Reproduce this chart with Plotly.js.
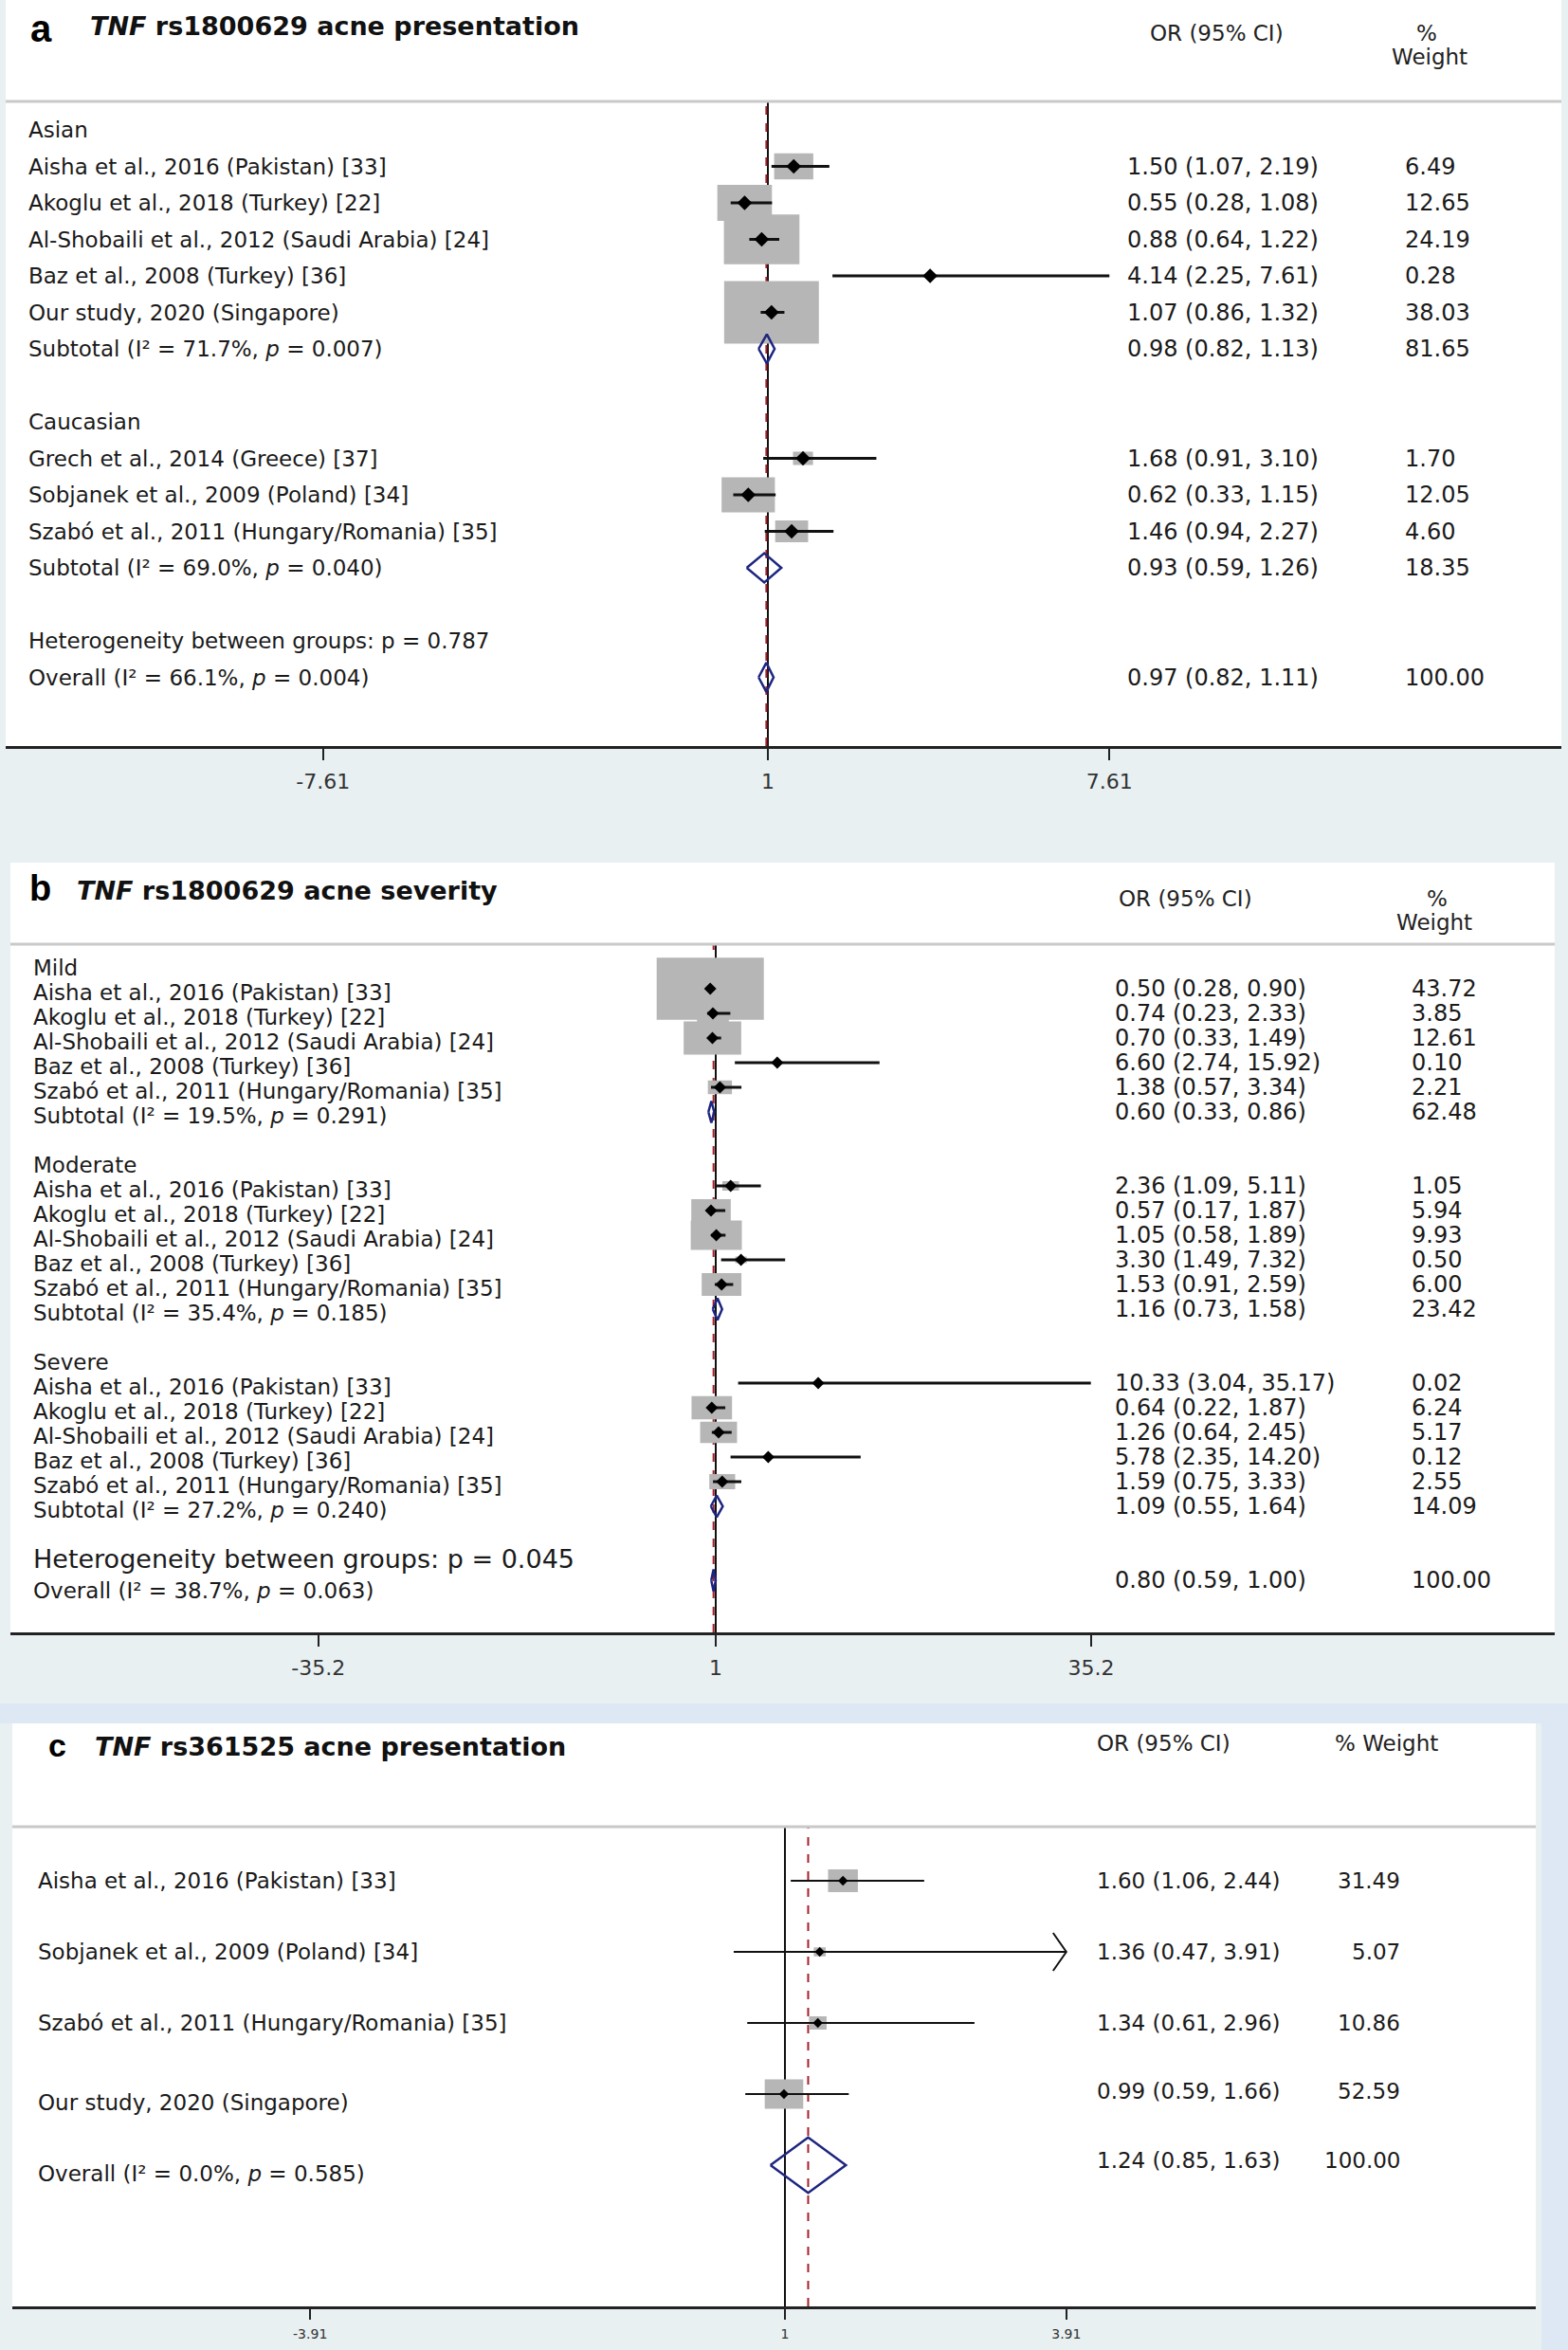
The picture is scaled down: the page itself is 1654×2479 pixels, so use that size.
<!DOCTYPE html>
<html><head><meta charset="utf-8">
<script src="https://cdn.plot.ly/plotly-3.0.1.min.js"></script>
<style>html,body{margin:0;padding:0;background:#e8f0f2;}#chart{width:1654px;height:2479px;}</style>
</head><body><div id="chart"></div>
<script>
// ================= DATA =================
// ---- Panel a : TNF rs1800629 acne presentation ----
const aTitle = "<i>TNF</i> rs1800629 acne presentation";
const aGroups = ["Asian", "Caucasian"];
const aStudyGroup = [0, 0, 0, 0, 0, 1, 1, 1];
const aStudies = ["Aisha et al., 2016 (Pakistan) [33]", "Akoglu et al., 2018 (Turkey) [22]",
  "Al-Shobaili et al., 2012 (Saudi Arabia) [24]", "Baz et al., 2008 (Turkey) [36]",
  "Our study, 2020 (Singapore)", "Grech et al., 2014 (Greece) [37]",
  "Sobjanek et al., 2009 (Poland) [34]", "Szabó et al., 2011 (Hungary/Romania) [35]"];
const aOR = [1.50, 0.55, 0.88, 4.14, 1.07, 1.68, 0.62, 1.46];
const aLow = [1.07, 0.28, 0.64, 2.25, 0.86, 0.91, 0.33, 0.94];
const aHigh = [2.19, 1.08, 1.22, 7.61, 1.32, 3.10, 1.15, 2.27];
const aWeight = [6.49, 12.65, 24.19, 0.28, 38.03, 1.70, 12.05, 4.60];
const aSubI2 = ["71.7%", "69.0%"];
const aSubP = ["0.007", "0.040"];
const aSubOR = [0.98, 0.93];
const aSubLow = [0.82, 0.59];
const aSubHigh = [1.13, 1.26];
const aSubWeight = [81.65, 18.35];
const aHetP = "0.787";
const aOverallI2 = "66.1%", aOverallP = "0.004";
const aOverall = [0.97, 0.82, 1.11, 100.00]; // OR, low, high, weight
const aTickVals = [-7.61, 1, 7.61];
const aTickText = ["-7.61", "1", "7.61"];

// ---- Panel b : TNF rs1800629 acne severity ----
const bTitle = "<i>TNF</i> rs1800629 acne severity";
const bGroups = ["Mild", "Moderate", "Severe"];
const bNames = ["Aisha et al., 2016 (Pakistan) [33]", "Akoglu et al., 2018 (Turkey) [22]",
  "Al-Shobaili et al., 2012 (Saudi Arabia) [24]", "Baz et al., 2008 (Turkey) [36]",
  "Szabó et al., 2011 (Hungary/Romania) [35]"];
const bStudyGroup = [0, 0, 0, 0, 0, 1, 1, 1, 1, 1, 2, 2, 2, 2, 2];
const bOR = [0.50, 0.74, 0.70, 6.60, 1.38, 2.36, 0.57, 1.05, 3.30, 1.53, 10.33, 0.64, 1.26, 5.78, 1.59];
const bLow = [0.28, 0.23, 0.33, 2.74, 0.57, 1.09, 0.17, 0.58, 1.49, 0.91, 3.04, 0.22, 0.64, 2.35, 0.75];
const bHigh = [0.90, 2.33, 1.49, 15.92, 3.34, 5.11, 1.87, 1.89, 7.32, 2.59, 35.17, 1.87, 2.45, 14.20, 3.33];
const bWeight = [43.72, 3.85, 12.61, 0.10, 2.21, 1.05, 5.94, 9.93, 0.50, 6.00, 0.02, 6.24, 5.17, 0.12, 2.55];
const bSubI2 = ["19.5%", "35.4%", "27.2%"];
const bSubP = ["0.291", "0.185", "0.240"];
const bSubOR = [0.60, 1.16, 1.09];
const bSubLow = [0.33, 0.73, 0.55];
const bSubHigh = [0.86, 1.58, 1.64];
const bSubWeight = [62.48, 23.42, 14.09];
const bHetP = "0.045";
const bOverallI2 = "38.7%", bOverallP = "0.063";
const bOverall = [0.80, 0.59, 1.00, 100.00];
const bTickVals = [-35.2, 1, 35.2];
const bTickText = ["-35.2", "1", "35.2"];

// ---- Panel c : TNF rs361525 acne presentation ----
const cTitle = "<i>TNF</i> rs361525 acne presentation";
const cStudies = ["Aisha et al., 2016 (Pakistan) [33]", "Sobjanek et al., 2009 (Poland) [34]",
  "Szabó et al., 2011 (Hungary/Romania) [35]", "Our study, 2020 (Singapore)"];
const cOR = [1.60, 1.36, 1.34, 0.99];
const cLow = [1.06, 0.47, 0.61, 0.59];
const cHigh = [2.44, 3.91, 2.96, 1.66];
const cWeight = [31.49, 5.07, 10.86, 52.59];
const cTruncated = [false, true, false, false]; // CI runs past the plotted range (arrow)
const cOverallI2 = "0.0%", cOverallP = "0.585";
const cOverall = [1.24, 0.85, 1.63, 100.00];
const cTickVals = [-3.91, 1, 3.91];
const cTickText = ["-3.91", "1", "3.91"];

// ================= LAYOUT HELPERS =================
const W = 1654, H = 2479;
const fx = p => p / W;
const fy = p => 1 - p / H;
const FONT = "DejaVu Sans";
const TXT = "#1a1a1a";
const NAVY = "#1d2580";
const traces = [], annotations = [], shapes = [];
const layout = {
  width: W, height: H, margin: {l: 0, r: 0, t: 0, b: 0},
  paper_bgcolor: "#e8f0f2", plot_bgcolor: "rgba(0,0,0,0)", showlegend: false,
  shapes: shapes, annotations: annotations
};
const fmt = v => v.toFixed(2);

// outer decorative background regions
shapes.push({type: "rect", xref: "paper", yref: "paper", layer: "below",
  x0: 0, x1: 1, y0: fy(1818), y1: fy(1797), fillcolor: "#dde8f4", line: {width: 0}});
shapes.push({type: "rect", xref: "paper", yref: "paper", layer: "below",
  x0: fx(1626), x1: 1, y0: 0, y1: fy(1797), fillcolor: "#dde8f4", line: {width: 0}});

function addPanel(k, cfg, d) {
  const xs = k === 1 ? "x" : "x" + k, ys = k === 1 ? "y" : "y" + k;
  const xKey = k === 1 ? "xaxis" : "xaxis" + k, yKey = k === 1 ? "yaxis" : "yaxis" + k;
  const rowAt = px => 1 + (px - cfg.row1Y) / cfg.rowPx;
  const valAt = px => 1 + (px - cfg.pxOne) / cfg.ppu;

  // white panel
  shapes.push({type: "rect", xref: "paper", yref: "paper", layer: "below",
    x0: fx(cfg.left), x1: fx(cfg.right), y0: fy(cfg.axisY), y1: fy(cfg.top),
    fillcolor: "#ffffff", line: {width: 0}});
  // header separator
  shapes.push({type: "line", xref: "paper", yref: "paper",
    x0: fx(cfg.left), x1: fx(cfg.right), y0: fy(cfg.headerY), y1: fy(cfg.headerY),
    line: {color: "#c9c9c9", width: 3}});

  layout[xKey] = {
    domain: [fx(cfg.left), fx(cfg.right)], range: [valAt(cfg.left), valAt(cfg.right)],
    anchor: ys, showgrid: false, zeroline: false, showline: true, linewidth: 3, linecolor: "#222",
    ticks: "outside", ticklen: cfg.tickLen, tickwidth: 2, tickcolor: "#222",
    tickvals: d.tickVals, ticktext: d.tickText, ticklabelstandoff: cfg.tickStandoff,
    tickfont: {family: FONT, size: cfg.tickSize, color: "#333"}, fixedrange: true
  };
  layout[yKey] = {
    domain: [fy(cfg.axisY), fy(cfg.headerY)], range: [rowAt(cfg.axisY), rowAt(cfg.headerY)],
    anchor: xs, visible: false, showgrid: false, zeroline: false, fixedrange: true
  };

  // reference line at 1 and dashed overall-estimate line
  shapes.push({type: "line", xref: xs, yref: ys + " domain", layer: "below",
    x0: 1, x1: 1, y0: 0, y1: 1, line: {color: "#111", width: 2}});
  shapes.push({type: "line", xref: xs, yref: ys + " domain", layer: "below",
    x0: d.overall[0], x1: d.overall[0], y0: 0, y1: 1, line: {color: "#a3202a", width: 2, dash: "dash"}});

  // rows
  const items = [];
  let r = 1;
  if (d.groups) {
    d.groups.forEach((g, gi) => {
      items.push({type: "group", text: g, row: r}); r++;
      d.studyGroup.forEach((sg, i) => { if (sg === gi) { items.push({type: "study", i: i, row: r}); r++; } });
      items.push({type: "sub", i: gi, row: r}); r++;
      r++;
    });
    items.push({type: "het", row: r}); r++;
    items.push({type: "overall", row: r});
  } else {
    d.studies.forEach((s, i) => { items.push({type: "study", i: i, row: r}); r++; });
    items.push({type: "overall", row: r});
  }

  const boxX = [], boxY = [], ciX = [], ciY = [], ptX = [], ptY = [], diX = [], diY = [];
  const label = (text, row, shift, size) => annotations.push({xref: "paper", yref: ys, x: fx(cfg.labelX), y: row,
    xanchor: "left", yanchor: "middle", text: text, showarrow: false, yshift: shift,
    font: {family: FONT, size: size || cfg.textSize, color: TXT}});
  const values = (or, lo, hi, w, row, shift) => {
    annotations.push({xref: "paper", yref: ys, x: fx(cfg.valueX), y: row, xanchor: "left", yanchor: "middle",
      text: fmt(or) + " (" + fmt(lo) + ", " + fmt(hi) + ")", showarrow: false, yshift: shift,
      font: {family: FONT, size: cfg.valueSize, color: TXT}});
    annotations.push({xref: "paper", yref: ys, x: fx(cfg.weightX), y: row, xanchor: cfg.weightAnchor, yanchor: "middle",
      text: fmt(w), showarrow: false, yshift: shift,
      font: {family: FONT, size: cfg.valueSize, color: TXT}});
  };
  const diamond = (or, lo, hi, row) => {
    diX.push(lo, or, hi, or, lo, null);
    diY.push(row, row - cfg.dia, row, row + cfg.dia, row, null);
  };

  items.forEach(it => {
    const row = it.row;
    if (it.type === "group") {
      label(it.text, row, cfg.labelShift);
    } else if (it.type === "study") {
      const i = it.i, or = d.or[i], lo = d.low[i], hi = d.high[i], w = d.weight[i];
      const hw = cfg.boxW * Math.sqrt(w) / 2 / cfg.ppu, hh = cfg.boxH * Math.sqrt(w) / 2 / cfg.rowPx;
      boxX.push(or - hw, or + hw, or + hw, or - hw, or - hw, null);
      boxY.push(row - hh, row - hh, row + hh, row + hh, row - hh, null);
      ciX.push(lo, hi, null); ciY.push(row, row, null);
      if (d.truncated && d.truncated[i]) {
        const ax = 14 / cfg.ppu, ay = 20 / cfg.rowPx;
        ciX.push(hi - ax, hi, hi - ax, null); ciY.push(row - ay, row, row + ay, null);
      }
      ptX.push(or); ptY.push(row);
      const late = cfg.lateFrom !== undefined && i >= cfg.lateFrom;
      label(d.studies[i], row, cfg.labelShift + (late ? cfg.lateShift : 0));
      values(or, lo, hi, w, row, late ? cfg.lateValShift : 0);
    } else if (it.type === "sub") {
      const g = it.i;
      label("Subtotal (I² = " + d.subI2[g] + ", <i>p</i> = " + d.subP[g] + ")", row, cfg.labelShift);
      values(d.subOR[g], d.subLow[g], d.subHigh[g], d.subWeight[g], row, 0);
      diamond(d.subOR[g], d.subLow[g], d.subHigh[g], row);
    } else if (it.type === "het") {
      label("Heterogeneity between groups: p = " + d.hetP, row, cfg.labelShift, cfg.hetSize);
    } else if (it.type === "overall") {
      const o = d.overall;
      label("Overall (I² = " + d.overallI2 + ", <i>p</i> = " + d.overallP + ")", row, cfg.overallLabelShift);
      values(o[0], o[1], o[2], o[3], row, cfg.overallValShift || 0);
      diamond(o[0], o[1], o[2], row);
    }
  });

  traces.push({type: "scatter", mode: "lines", x: boxX, y: boxY, xaxis: xs, yaxis: ys, fill: "toself",
    fillcolor: "#b6b6b6", line: {width: 0, color: "#b6b6b6"}, hoverinfo: "skip", cliponaxis: false});
  traces.push({type: "scatter", mode: "lines", x: ciX, y: ciY, xaxis: xs, yaxis: ys,
    line: {color: "#111", width: cfg.ciW}, hoverinfo: "skip"});
  traces.push({type: "scatter", mode: "markers", x: ptX, y: ptY, xaxis: xs, yaxis: ys,
    marker: {symbol: "diamond", size: cfg.mk, color: "#000"}, hoverinfo: "skip"});
  traces.push({type: "scatter", mode: "lines", x: diX, y: diY, xaxis: xs, yaxis: ys,
    line: {color: NAVY, width: 2.5}, hoverinfo: "skip"});

  // titles and column headers
  annotations.push({xref: "paper", yref: "paper", x: fx(cfg.letterX), y: fy(cfg.letterY), xanchor: "left", yanchor: "middle",
    text: "<b>" + cfg.letter + "</b>", showarrow: false, font: {family: "Liberation Sans", size: cfg.letterSize, color: "#000"}});
  annotations.push({xref: "paper", yref: "paper", x: fx(cfg.titleX), y: fy(cfg.titleY), xanchor: "left", yanchor: "middle",
    text: "<b>" + d.title + "</b>", showarrow: false, font: {family: FONT, size: 27, color: "#111"}});
  annotations.push({xref: "paper", yref: "paper", x: fx(cfg.orX), y: fy(cfg.orY), xanchor: "left", yanchor: "middle",
    text: "OR (95% CI)", showarrow: false, font: {family: FONT, size: 23, color: "#222"}});
  if (cfg.combinedHeader) {
    annotations.push({xref: "paper", yref: "paper", x: fx(cfg.pctX), y: fy(cfg.pctY), xanchor: "left", yanchor: "middle",
      text: "% Weight", showarrow: false, font: {family: FONT, size: 23, color: "#222"}});
  } else {
    annotations.push({xref: "paper", yref: "paper", x: fx(cfg.pctX), y: fy(cfg.pctY), xanchor: "center", yanchor: "middle",
      text: "%", showarrow: false, font: {family: FONT, size: 23, color: "#222"}});
    annotations.push({xref: "paper", yref: "paper", x: fx(cfg.wtX), y: fy(cfg.wtY), xanchor: "center", yanchor: "middle",
      text: "Weight", showarrow: false, font: {family: FONT, size: 23, color: "#222"}});
  }
}

addPanel(1, {
  left: 6, right: 1647, top: 0, headerY: 107, axisY: 787, pxOne: 810, ppu: 54.5,
  row1Y: 137, rowPx: 38.5, boxW: 16.2, boxH: 10.7, dia: 0.4, ciW: 3, mk: 12,
  labelX: 28, labelShift: 0, overallLabelShift: 0, valueX: 1187, weightX: 1480, weightAnchor: "left",
  textSize: 23, valueSize: 24, hetSize: 23, tickSize: 22, tickLen: 12, tickStandoff: 4,
  letter: "a", letterX: 30, letterY: 30, letterSize: 40, titleX: 93, titleY: 27,
  orX: 1211, orY: 35, pctX: 1505, pctY: 35, wtX: 1508, wtY: 60
}, {
  title: aTitle, groups: aGroups, studyGroup: aStudyGroup, studies: aStudies,
  or: aOR, low: aLow, high: aHigh, weight: aWeight,
  subI2: aSubI2, subP: aSubP, subOR: aSubOR, subLow: aSubLow, subHigh: aSubHigh, subWeight: aSubWeight,
  hetP: aHetP, overallI2: aOverallI2, overallP: aOverallP, overall: aOverall,
  tickVals: aTickVals, tickText: aTickText
});

addPanel(2, {
  left: 11, right: 1640, top: 910, headerY: 996, axisY: 1722, pxOne: 755, ppu: 11.58,
  row1Y: 1017, rowPx: 26, boxW: 17.1, boxH: 9.9, dia: 0.44, ciW: 3, mk: 10,
  labelX: 33, labelShift: -4, overallLabelShift: -11, valueX: 1174, weightX: 1487, weightAnchor: "left",
  textSize: 23, valueSize: 24, hetSize: 27, tickSize: 22, tickLen: 12, tickStandoff: 4,
  letter: "b", letterX: 29, letterY: 937, letterSize: 38, titleX: 79, titleY: 940,
  orX: 1178, orY: 948, pctX: 1516, pctY: 948, wtX: 1513, wtY: 973
}, {
  title: bTitle, groups: bGroups, studyGroup: bStudyGroup, studies: [].concat(bNames, bNames, bNames),
  or: bOR, low: bLow, high: bHigh, weight: bWeight,
  subI2: bSubI2, subP: bSubP, subOR: bSubOR, subLow: bSubLow, subHigh: bSubHigh, subWeight: bSubWeight,
  hetP: bHetP, overallI2: bOverallI2, overallP: bOverallP, overall: bOverall,
  tickVals: bTickVals, tickText: bTickText
});

addPanel(3, {
  left: 13, right: 1620, top: 1818, headerY: 1927, axisY: 2433, pxOne: 828, ppu: 102,
  row1Y: 1984, rowPx: 75, boxW: 5.6, boxH: 4.3, dia: 0.39, ciW: 2, mk: 8,
  labelX: 38, labelShift: 0, lateFrom: 3, lateShift: -9, lateValShift: 3, overallLabelShift: -9, overallValShift: 5,
  valueX: 1155, weightX: 1479, weightAnchor: "right",
  textSize: 23, valueSize: 23, hetSize: 23, tickSize: 14, tickLen: 11, tickStandoff: 3,
  letter: "c", letterX: 49, letterY: 1841, letterSize: 34, titleX: 98, titleY: 1842,
  orX: 1155, orY: 1839, combinedHeader: true, pctX: 1406, pctY: 1839
}, {
  title: cTitle, studies: cStudies, or: cOR, low: cLow, high: cHigh, weight: cWeight, truncated: cTruncated,
  overallI2: cOverallI2, overallP: cOverallP, overall: cOverall,
  tickVals: cTickVals, tickText: cTickText
});

Plotly.newPlot("chart", traces, layout, {staticPlot: true, displayModeBar: false});
</script>
</body></html>
